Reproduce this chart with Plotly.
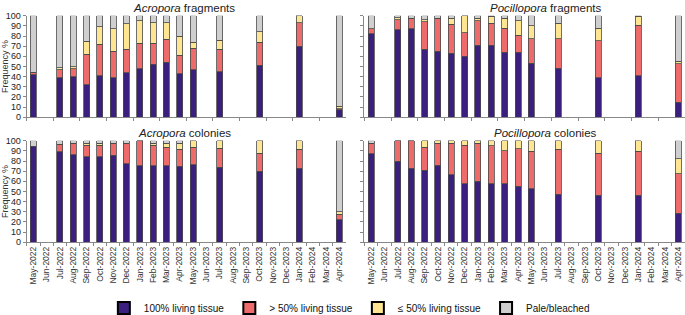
import plotly.graph_objects as go

months = ["May-2022", "Jun-2022", "Jul-2022", "Aug-2022", "Sep-2022", "Oct-2022",
          "Nov-2022", "Dec-2022", "Jan-2023", "Feb-2023", "Mar-2023", "Apr-2023",
          "May-2023", "Jun-2023", "Jul-2023", "Aug-2023", "Sep-2023", "Oct-2023",
          "Nov-2023", "Dec-2023", "Jan-2024", "Feb-2024", "Mar-2024", "Apr-2024"]

sampled = ["May-2022", "Jul-2022", "Aug-2022", "Sep-2022", "Oct-2022", "Nov-2022",
           "Dec-2022", "Jan-2023", "Feb-2023", "Mar-2023", "Apr-2023", "May-2023",
           "Jul-2023", "Oct-2023", "Jan-2024", "Apr-2024"]

categories = ["100% living tissue", "> 50% living tissue", "≤ 50% living tissue", "Pale/bleached"]
colors = ["#3b1f7e", "#ee6b6b", "#fde592", "#cfcfcf"]

acro_frag_100 = [42, 39, 40, 32, 41, 39, 44, 48, 52, 54, 43, 47, 45, 51, 70, 7.5]
acro_frag_gt50 = [2, 8, 8, 30, 31, 26, 23, 25, 21, 23, 18, 21, 22, 23, 23, 1]
acro_frag_le50 = [0.5, 2, 2, 13, 17, 22, 25, 22, 20, 16, 19, 6, 9, 10, 7, 2.5]
acro_frag_pale = [55.5, 51, 50, 25, 11, 13, 8, 5, 7, 7, 20, 26, 24, 16, 0, 89]

poci_frag_100 = [82, 86, 87, 67, 65, 63, 60, 71, 71, 64, 64, 53, 48.5, 39, 41, 15]
poci_frag_gt50 = [5, 10, 10, 27, 32, 28.5, 23, 24, 21.5, 23.5, 17, 24.5, 29, 36.5, 49.5, 37.5]
poci_frag_le50 = [0, 2, 0.5, 2, 0.5, 6, 17, 2.5, 7, 10, 14, 12.5, 15, 12, 9, 2.5]
poci_frag_pale = [13, 2, 2.5, 4, 2.5, 2.5, 0, 2.5, 0.5, 2.5, 5, 10, 7.5, 12.5, 0.5, 45]

acro_col_100 = [94.5, 89, 86, 84, 84, 85.5, 77.5, 75.5, 75.5, 75.5, 75, 76.5, 74, 70, 73, 22]
acro_col_gt50 = [0, 7.5, 11.5, 11.5, 11.5, 12, 20, 24.5, 20, 18, 16.5, 17, 18.5, 17.5, 18.5, 5.5]
acro_col_le50 = [0, 0, 0, 2, 2, 0, 0, 0, 2, 4, 6, 6.5, 7.5, 12.5, 8.5, 2.5]
acro_col_pale = [5.5, 3.5, 2.5, 2.5, 2.5, 2.5, 2.5, 0, 2.5, 2.5, 2.5, 0, 0, 0, 0, 70]

poci_col_100 = [87, 80, 73, 71, 76, 66.5, 57.5, 60, 57.5, 57.5, 55, 52.5, 47.5, 46.5, 46.5, 28.5]
poci_col_gt50 = [10.5, 20, 27, 22.5, 21.5, 31, 38, 37.5, 37.5, 32.5, 37, 37, 44, 41, 43, 39]
poci_col_le50 = [0, 0, 0, 6.5, 2.5, 2.5, 4.5, 2.5, 5, 10, 8, 10.5, 8.5, 12.5, 10.5, 14.5]
poci_col_pale = [2.5, 0, 0, 0, 0, 0, 0, 0, 0, 0, 0, 0, 0, 0, 0, 18]

panels = [
    ("x", "y", [acro_frag_100, acro_frag_gt50, acro_frag_le50, acro_frag_pale]),
    ("x2", "y2", [poci_frag_100, poci_frag_gt50, poci_frag_le50, poci_frag_pale]),
    ("x3", "y3", [acro_col_100, acro_col_gt50, acro_col_le50, acro_col_pale]),
    ("x4", "y4", [poci_col_100, poci_col_gt50, poci_col_le50, poci_col_pale]),
]

FONT = "Liberation Sans, Arial, sans-serif"
fig = go.Figure()
for pi, (xa, ya, series) in enumerate(panels):
    for si, vals in enumerate(series):
        fig.add_trace(go.Bar(
            x=sampled, y=vals, name=categories[si], xaxis=xa, yaxis=ya,
            marker=dict(color=colors[si], line=dict(color="#4a4a4a", width=0.8)),
            legendgroup=categories[si], showlegend=False, hoverinfo="x+y+name",
        ))

# legend entries (no data), with the heavy black outline of the reference legend
for si, name in enumerate(categories):
    fig.add_trace(go.Bar(
        x=[None], y=[None], name=name, xaxis="x", yaxis="y",
        marker=dict(color=colors[si], line=dict(color="#000", width=2)),
        legendgroup=name, showlegend=True,
    ))

W, H = 685, 315
xl = [26.7 / W, 346 / W]
xr = [364.4 / W, 1.0]
yt = [1 - 117.3 / H, 1 - 15.7 / H]
yb = [1 - 242.3 / H, 1 - 140.7 / H]

def xaxis(dom, anchor, labels):
    return dict(domain=dom, anchor=anchor, type="category", categoryorder="array",
                categoryarray=months, range=[-0.5, 23.5], tickson="boundaries",
                ticks="outside", ticklen=3, tickcolor="#888", showline=True,
                linecolor="#888", linewidth=1, showgrid=False, zeroline=False,
                showticklabels=labels, tickangle=-90, automargin=False,
                tickfont=dict(size=8.5, color="#333", family=FONT))

def yaxis(dom, anchor, labels):
    return dict(domain=dom, anchor=anchor, range=[0, 100], dtick=10, tick0=0,
                ticks="outside", ticklen=3, tickcolor="#888", showline=True,
                linecolor="#888", linewidth=1, showgrid=False, zeroline=False,
                showticklabels=labels, automargin=False,
                tickfont=dict(size=9, color="#222", family=FONT),
                title=dict(text="Frequency %" if labels else "",
                           font=dict(size=9, color="#333", family=FONT)))

def title(text, x, y):
    return dict(text=text, x=x / W, y=1 - y / H, xref="paper", yref="paper",
                xanchor="center", yanchor="middle", showarrow=False,
                font=dict(size=11.5, color="#222", family=FONT))

fig.update_layout(
    width=W, height=H, margin=dict(l=0, r=0, t=0, b=0, autoexpand=False),
    paper_bgcolor="white", plot_bgcolor="white",
    barmode="stack", bargap=0.55,
    font=dict(family=FONT, color="#222"),
    xaxis=xaxis(xl, "y", False), yaxis=yaxis(yt, "x", True),
    xaxis2=xaxis(xr, "y2", False), yaxis2=yaxis(yt, "x2", False),
    xaxis3=xaxis(xl, "y3", True), yaxis3=yaxis(yb, "x3", True),
    xaxis4=xaxis(xr, "y4", True), yaxis4=yaxis(yb, "x4", False),
    legend=dict(orientation="h", x=0.51, xanchor="center", y=-0.024, yanchor="bottom",
                font=dict(size=10, color="#111", family=FONT), traceorder="normal",
                itemwidth=30, tracegroupgap=0),
    annotations=[
        title("<i>Acropora</i> fragments", 184, 8),
        title("<i>Pocillopora</i> fragments", 545, 8),
        title("<i>Acropora</i> colonies", 184, 133),
        title("<i>Pocillopora</i> colonies", 545, 133),
    ],
)

fig.write_html("out.html", config={"displayModeBar": False},
               post_script="document.body.style.margin='0';document.body.style.padding='0';")
